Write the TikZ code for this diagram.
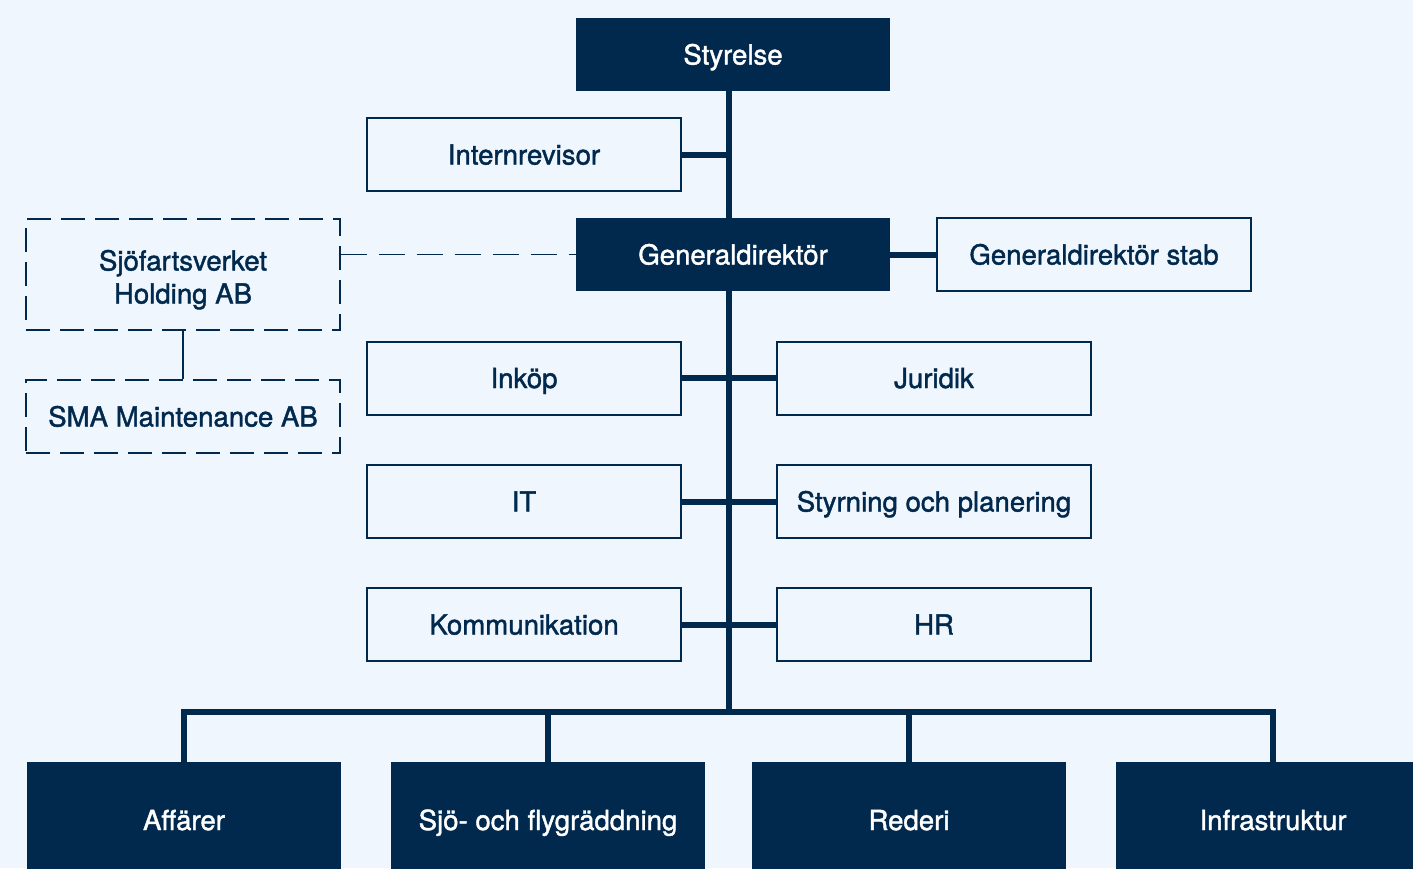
\documentclass[tikz,border=0pt]{standalone}
\usepackage{fontspec}
\setmainfont{TeX Gyre Heros}[FakeBold=1.5]
\definecolor{navy}{RGB}{0,41,77}
\definecolor{bg}{RGB}{239,246,253}
\begin{document}
\begin{tikzpicture}[x=1pt,y=-1pt,
  base/.style={minimum width=314pt,minimum height=73pt,inner sep=0pt,anchor=center,
    text height=20pt,text depth=0pt,font=\fontsize{27.6}{33}\selectfont},
  dark/.style={base,fill=navy,text=white},
  light/.style={base,draw=navy,line width=2pt,fill=bg,text=navy},
  dbox/.style={base,draw=navy,line width=1.8pt,dash pattern=on 24pt off 10pt,text=navy,align=center},
  conn/.style={draw=navy,line width=6pt},
  thin/.style={draw=navy,line width=1.8pt},
  dconn/.style={draw=navy,line width=1.8pt,dash pattern=on 26pt off 12pt}]
\path[use as bounding box,clip] (0,0) rectangle (1413,868);
\fill[bg] (0,0) rectangle (1413,868);
\coordinate (trunk) at (729,712);
\node[dark] (sty) at (733,54.5) {Styrelse};
\node[dark] (gd) at (733,254.5) {Generaldirektör};
\draw[conn] (sty.south -| trunk) -- (gd.north -| trunk);
\draw[conn] (gd.south -| trunk) -- (trunk);
\node[light] (ir) at (524,154.5) {Internrevisor};
\node[light] (gds) at (1094,254.5) {Generaldirektör stab};
\node[dbox,minimum height=111pt,text height=58pt,text depth=0pt] (hold) at (183,274.5) {Sjöfartsverket\\Holding AB};
\node[dbox] (sma) at (183,416.5) {SMA Maintenance AB};
\node[light] (ink) at (524,378) {Inköp};
\node[light] (jur) at (934,378) {Juridik};
\node[light] (it) at (524,501.5) {IT};
\node[light] (sty2) at (934,501.5) {Styrning och planering};
\node[light] (kom) at (524,624.5) {Kommunikation};
\node[light] (hr) at (934,624.5) {HR};
\node[dark,minimum height=116pt] (aff) at (184,820) {Affärer};
\node[dark,minimum height=116pt] (sjo) at (548,820) {Sjö- och flygräddning};
\node[dark,minimum height=116pt] (red) at (909,820) {Rederi};
\node[dark,minimum height=116pt] (inf) at (1273,820) {Infrastruktur};
\draw[conn] (ir.east) -- (ir.east -| trunk);
\draw[conn] (gd.east) -- (gds.west);
\draw[dconn] (gd.west -| hold.east) -- (gd.west);
\draw[thin] (hold.south) -- (sma.north);
\draw[conn] (ink.east) -- (jur.west);
\draw[conn] (it.east) -- (sty2.west);
\draw[conn] (kom.east) -- (hr.west);
\draw[conn,line join=miter] (aff.north) |- (trunk) -| (inf.north);
\draw[conn] (sjo.north) -- (sjo.north |- trunk);
\draw[conn] (red.north) -- (red.north |- trunk);
\end{tikzpicture}
\end{document}
